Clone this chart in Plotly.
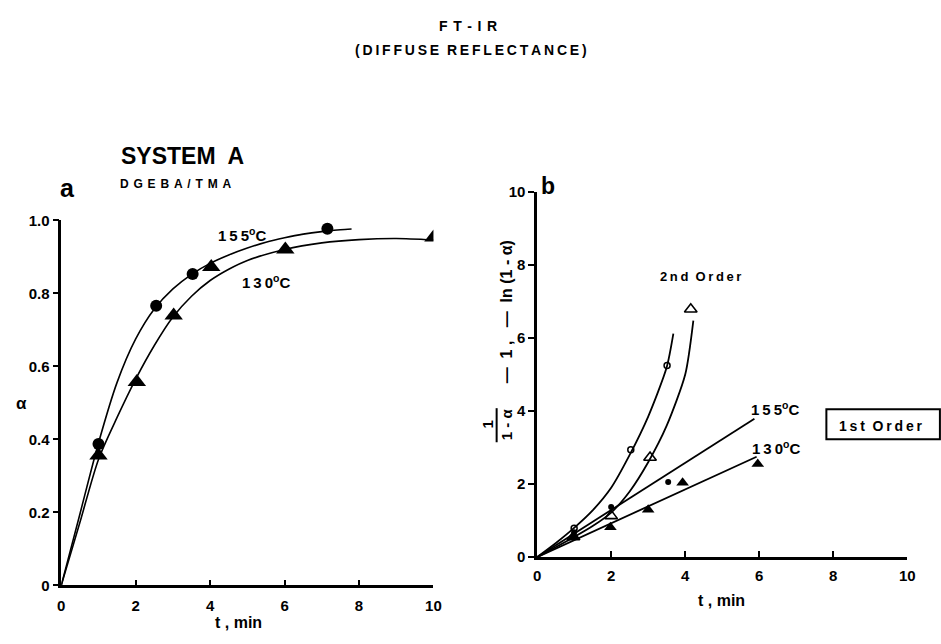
import plotly.graph_objects as go

# ---------------- data ----------------
# Panel a: degree of cure alpha vs time
a155_t = [1.0, 2.55, 3.53, 7.15]
a155_y = [0.387, 0.766, 0.853, 0.977]
a130_t = [1.0, 2.03, 3.02, 4.03, 6.02, 10.0]
a130_y = [0.356, 0.557, 0.739, 0.872, 0.920, 0.953]
# fitted curves (read at selected points)
fa155_t = [0, 0.5, 1, 1.5, 2, 2.5, 3, 3.5, 4, 4.5, 5, 5.5, 6, 6.5, 7, 7.5, 7.8]
fa155_y = [0, 0.195, 0.39, 0.556, 0.675, 0.757, 0.812, 0.852, 0.882, 0.905, 0.924,
           0.94, 0.952, 0.962, 0.969, 0.974, 0.976]
fa130_t = [0, 0.5, 1, 1.5, 2, 2.5, 3, 3.5, 4, 4.5, 5, 6, 7, 8, 9, 10]
fa130_y = [0, 0.172, 0.345, 0.46, 0.565, 0.657, 0.735, 0.792, 0.835, 0.866, 0.89,
           0.92, 0.938, 0.947, 0.95, 0.946]

# Panel b: 2nd-order (open) and 1st-order (filled) functions
b2_155_t = [1.0, 2.53, 3.51]
b2_155_y = [0.79, 2.94, 5.25]
b2_130_t = [0.98, 2.0, 3.05, 4.15]
b2_130_y = [0.55, 1.13, 2.73, 6.79]
b1_155_t = [1.0, 2.0, 3.54]
b1_155_y = [0.68, 1.37, 2.06]
b1_130_t = [1.0, 1.98, 3.0, 3.93, 5.96]
b1_130_y = [0.55, 0.82, 1.30, 2.04, 2.55]
# fitted curves / lines
fb2_155_t = [0, 0.5, 1, 1.5, 2, 2.5, 3, 3.5, 3.68]
fb2_155_y = [0, 0.38, 0.8, 1.28, 1.9, 2.8, 3.85, 5.2, 6.12]
fb2_130_t = [0, 0.5, 1, 1.5, 2, 2.5, 3, 3.5, 4, 4.22]
fb2_130_y = [0, 0.27, 0.55, 0.85, 1.22, 1.8, 2.6, 3.6, 5.0, 6.48]
fb1_155_t = [0, 5.87]
fb1_155_y = [0, 3.79]
fb1_130_t = [0, 5.93]
fb1_130_y = [0, 2.75]

xa_ticks = [0, 2, 4, 6, 8, 10]
ya_ticks = [0, 0.2, 0.4, 0.6, 0.8, 1.0]
ya_text = ["0", "0.2", "0.4", "0.6", "0.8", "1.0"]
yb_ticks = [0, 2, 4, 6, 8, 10]

# ---------------- layout helpers ----------------
W, H = 941, 644
FONT = "Liberation Sans, Arial, sans-serif"


def X(px):
    return px / W


def Y(py):
    return 1 - py / H


def sp(s, n=1):
    return ("\u2009" * n).join(s)


fig = go.Figure()


def curve(x, y, xa, ya, width=1.6, smooth=0.8):
    fig.add_trace(go.Scatter(x=x, y=y, mode="lines", xaxis=xa, yaxis=ya,
                             line=dict(color="black", width=width, shape="spline", smoothing=smooth),
                             showlegend=False, hoverinfo="skip"))


def straight(x, y, xa, ya, width=1.8):
    fig.add_trace(go.Scatter(x=x, y=y, mode="lines", xaxis=xa, yaxis=ya,
                             line=dict(color="black", width=width),
                             showlegend=False, hoverinfo="skip"))


def pts(x, y, xa, ya, symbol, size, lw=0):
    fig.add_trace(go.Scatter(x=x, y=y, mode="markers", xaxis=xa, yaxis=ya,
                             marker=dict(symbol=symbol, size=size, color="black",
                                         line=dict(color="black", width=lw)),
                             showlegend=False, hoverinfo="skip"))


# panel a
curve(fa155_t, fa155_y, "x", "y")
curve(fa130_t, fa130_y, "x", "y")
pts(a155_t, a155_y, "x", "y", "circle", 12)
pts(a130_t, a130_y, "x", "y", "triangle-up", 16)

# panel b
curve(fb2_155_t, fb2_155_y, "x2", "y2", 1.8, 0.7)
curve(fb2_130_t, fb2_130_y, "x2", "y2", 1.8, 0.7)
straight(fb1_155_t, fb1_155_y, "x2", "y2")
straight(fb1_130_t, fb1_130_y, "x2", "y2")
pts(b2_155_t, b2_155_y, "x2", "y2", "circle-open", 6, 1.5)
pts(b2_130_t, b2_130_y, "x2", "y2", "triangle-up-open", 11, 1.6)
pts(b1_155_t, b1_155_y, "x2", "y2", "circle", 6)
pts(b1_130_t, b1_130_y, "x2", "y2", "triangle-up", 11)

tickfont = dict(family=FONT, size=15, color="black", weight="bold")
common = dict(showgrid=False, zeroline=False, showline=True, linecolor="black",
              linewidth=2.5, tickcolor="black", tickwidth=2, ticklen=6,
              tickfont=tickfont, fixedrange=True)

fig.update_layout(
    width=W, height=H, margin=dict(l=0, r=0, t=0, b=0),
    paper_bgcolor="white", plot_bgcolor="white", showlegend=False,
    xaxis=dict(domain=[X(58), X(435)], range=[0, 10], anchor="y",
               tickvals=xa_ticks, ticks="inside", ticklabelstandoff=5, **common),
    yaxis=dict(domain=[Y(592), Y(217)], range=[0, 1.0], anchor="x",
               tickvals=ya_ticks, ticktext=ya_text, ticks="outside", **common),
    xaxis2=dict(domain=[X(540), X(915)], range=[0, 10], anchor="y2",
                tickvals=xa_ticks, ticks="inside", ticklabelstandoff=3, **common),
    yaxis2=dict(domain=[Y(563), Y(188)], range=[0, 10], anchor="x2",
                tickvals=yb_ticks, ticks="outside", **common),
)


def ann(x, y, text, size=12, anchor="center", angle=0):
    fig.add_annotation(x=X(x), y=Y(y), xref="paper", yref="paper", text=text,
                       showarrow=False, xanchor=anchor, yanchor="middle", textangle=angle,
                       font=dict(family=FONT, size=size, color="black", weight="bold"))


# titles
ann(470, 17, sp("FT-IR", 2), 14)
ann(473, 42, sp("(DIFFUSE", 1) + "  " + sp("REFLECTANCE)", 1), 14)
ann(181, 151, "SYSTEM  A", 23)
ann(64, 184, "a", 25)
ann(174, 180, sp("DGEBA/TMA", 2), 12)
ann(551, 182, "b", 23)

# panel a labels
ann(18, 405, "α", 17)
ann(238, 630, "t , min", 16)
ann(241, 232, sp("155", 1) + "<sup>o</sup>C", 15)
ann(265, 280, sp("130", 1) + "<sup>o</sup>C", 15)

# panel b labels
ann(727, 608, "t , min", 16)
ann(706, 275, sp("2nd", 1) + "  " + sp("Order", 1), 13)
ann(781, 410, sp("155", 1) + "<sup>o</sup>C", 15)
ann(782, 450, sp("130", 1) + "<sup>o</sup>C", 15)
ann(888, 428, sp("1st", 1) + "  " + sp("Order", 1), 14)
fig.add_shape(type="rect", xref="paper", yref="paper",
              x0=X(833), x1=X(948), y0=Y(442), y1=Y(411),
              line=dict(color="black", width=2))

# y label of panel b: 1/(1-α) - 1 ,  -ln(1 - α)
ann(490, 427, "1", 15, angle=-90)
ann(509, 427, "1 - α", 15, angle=-90)
fig.add_shape(type="line", xref="paper", yref="paper",
              x0=X(499), x1=X(499), y0=Y(410), y1=Y(445),
              line=dict(color="black", width=2))
ann(509, 311, "—  1 ,   —  ln (1 - α)", 16, angle=-90)

fig.write_html("out.html")
